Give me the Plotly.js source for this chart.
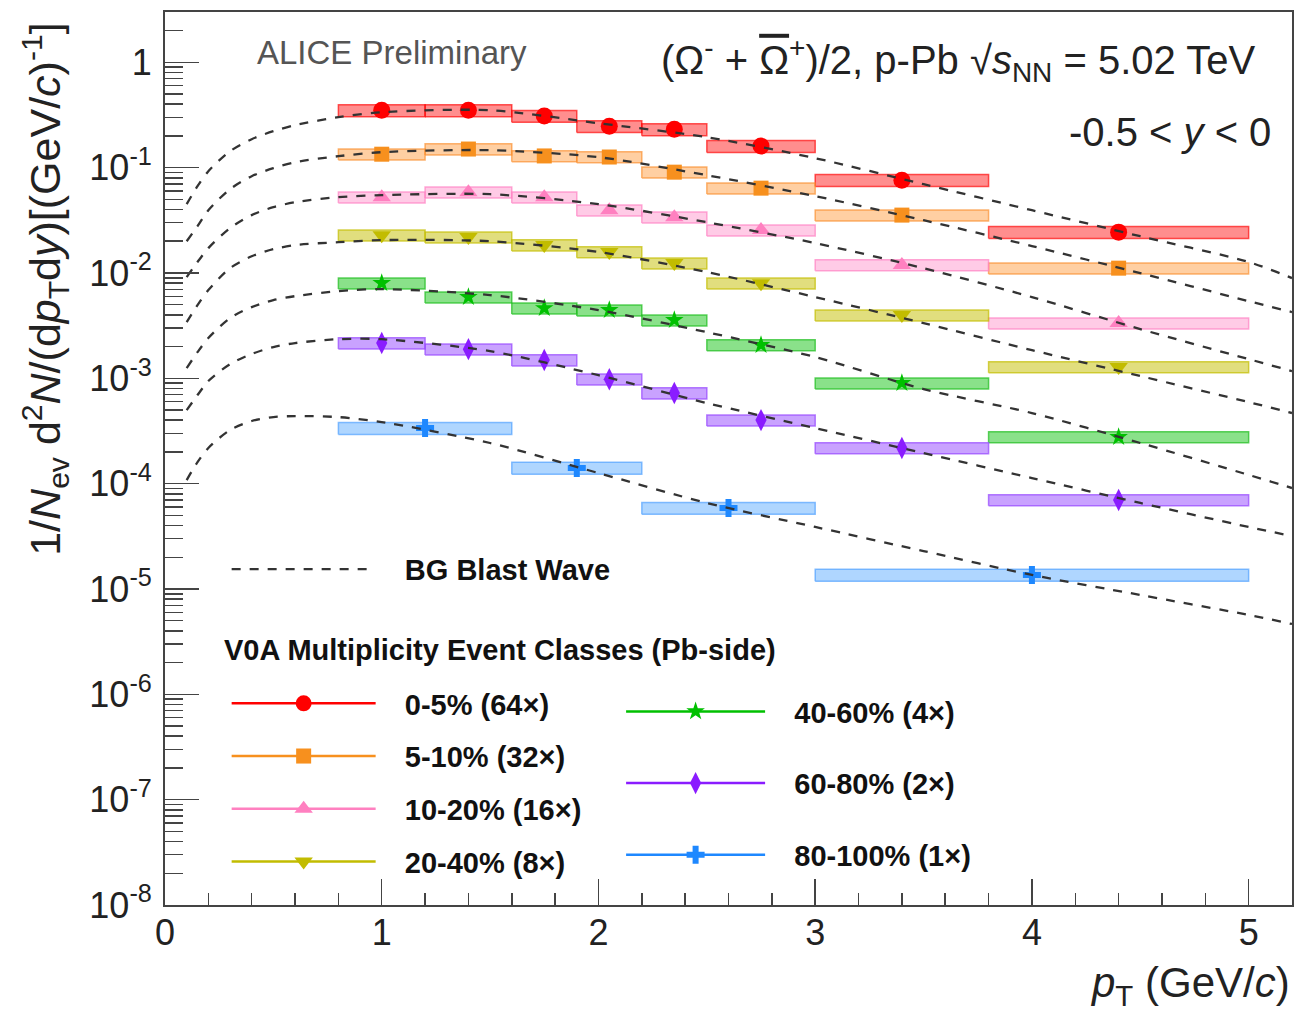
<!DOCTYPE html>
<html><head><meta charset="utf-8">
<script src="https://cdn.plot.ly/plotly-3.0.1.min.js"></script>
<style>body{margin:0;background:#fff}</style>
</head><body>
<div id="chart" style="width:1297px;height:1017px"></div>
<script>
// ---- data (values as plotted, already scaled) ----
const binEdges = [0.8, 1.2, 1.6, 1.9, 2.2, 2.5, 3.0, 3.8, 5.0];
const binEdgesLow = [0.8, 1.6, 2.2, 3.0, 5.0];
const classLabels = ['0-5% (64×)', '5-10% (32×)', '10-20% (16×)', '20-40% (8×)', '40-60% (4×)', '60-80% (2×)', '80-100% (1×)'];

const y0_5    = [0.350, 0.350, 0.309, 0.247, 0.231, 0.160, 0.0760, 0.0244];
const y5_10   = [0.134, 0.150, 0.129, 0.126, 0.0905, 0.0638, 0.0354, 0.0111];
const y10_20  = [0.0524, 0.0584, 0.0524, 0.0394, 0.0338, 0.0255, 0.0119, 0.00334];
const y20_40  = [0.0228, 0.0219, 0.0184, 0.0158, 0.0124, 0.0080, 0.00398, 0.00128];
const y40_60  = [0.0080, 0.00590, 0.00463, 0.00444, 0.00357, 0.00207, 0.00090, 0.000277];
const y60_80  = [0.00216, 0.00189, 0.00149, 0.00098, 0.000724, 0.000401, 0.000218, 0.0000699];
const y80_100 = [0.000337, 0.000141, 0.0000587, 0.0000136];

const sysFrac = [0.13, 0.12, 0.12, 0.12, 0.12, 0.12, 0.13];

// BG blast-wave curves
const curveX = [0.1, 0.15, 0.2, 0.3, 0.4, 0.5, 0.6, 0.8, 1.0, 1.5, 2.0, 2.5, 3.0, 3.5, 4.0, 4.5, 5.0, 5.2];
const bw0_5    = [0.0450, 0.0666, 0.0924, 0.143, 0.186, 0.2215, 0.2526, 0.3008, 0.3354, 0.3504, 0.2638, 0.1943, 0.1228, 0.0696, 0.0394, 0.0223, 0.0127, 0.00893];
const bw5_10   = [0.0200, 0.0278, 0.0394, 0.0624, 0.0829, 0.0987, 0.1125, 0.1283, 0.1400, 0.1463, 0.1255, 0.0847, 0.0536, 0.0317, 0.0180, 0.00996, 0.00540, 0.00425];
const bw10_20  = [0.00913, 0.0127, 0.0172, 0.0266, 0.0354, 0.0421, 0.0469, 0.0524, 0.0547, 0.0559, 0.0450, 0.0303, 0.0192, 0.0111, 0.00590, 0.00293, 0.00152, 0.00117];
const bw20_40  = [0.00341, 0.00495, 0.00687, 0.0111, 0.0144, 0.0168, 0.0184, 0.0196, 0.0205, 0.0200, 0.0158, 0.0102, 0.00590, 0.00334, 0.00185, 0.00105, 0.000594, 0.000468];
const bw40_60  = [0.00125, 0.00177, 0.00241, 0.00373, 0.00474, 0.00552, 0.00602, 0.00672, 0.00702, 0.00616, 0.00444, 0.00274, 0.00159, 0.000790, 0.000468, 0.000243, 0.000121, 0.0000908];
const bw60_80  = [0.000499, 0.000693, 0.000941, 0.00136, 0.00170, 0.00198, 0.00216, 0.00235, 0.00235, 0.00181, 0.00107, 0.000582, 0.000337, 0.000195, 0.000113, 0.0000655, 0.0000388, 0.0000318];
const bw80_100 = [0.000108, 0.000160, 0.000218, 0.000323, 0.000393, 0.000428, 0.000438, 0.000428, 0.000384, 0.000243, 0.000126, 0.0000655, 0.0000388, 0.0000229, 0.0000136, 0.00000877, 0.00000567, 0.00000465];

// ---- styles ----
const styles = [
  {color: '#ff0000', fill: 'rgba(255,50,50,0.55)',  edge: 'rgba(255,0,0,0.65)',     symbol: 'circle',        size: 17, legend: 'legend2'},
  {color: '#f7901e', fill: 'rgba(255,160,70,0.5)',  edge: 'rgba(250,140,40,0.65)',  symbol: 'square',        size: 15, legend: 'legend2'},
  {color: '#ff80c0', fill: 'rgba(255,160,210,0.55)', edge: 'rgba(255,130,195,0.7)', symbol: 'triangle-up',   size: 16, legend: 'legend2'},
  {color: '#c2bc00', fill: 'rgba(205,200,40,0.6)',  edge: 'rgba(195,190,0,0.7)',    symbol: 'triangle-down', size: 16, legend: 'legend2'},
  {color: '#00c000', fill: 'rgba(60,205,60,0.6)',   edge: 'rgba(30,190,30,0.7)',    symbol: 'star',          size: 14, legend: 'legend3'},
  {color: '#8a1cff', fill: 'rgba(165,100,255,0.6)', edge: 'rgba(150,70,255,0.7)',   symbol: 'diamond-tall',  size: 16, legend: 'legend3'},
  {color: '#1e88ff', fill: 'rgba(110,180,255,0.55)', edge: 'rgba(60,150,255,0.6)',  symbol: 'cross',         size: 15, legend: 'legend3'}
];

const yData = [y0_5, y5_10, y10_20, y20_40, y40_60, y60_80, y80_100];
const edgesFor = [binEdges, binEdges, binEdges, binEdges, binEdges, binEdges, binEdgesLow];
const curves = [bw0_5, bw5_10, bw10_20, bw20_40, bw40_60, bw60_80, bw80_100];
const PAD = '\u00a0\u00a0\u00a0';

const boxTraces = [], markerTraces = [], curveTraces = [], legendTraces = [];

yData.forEach((ys, k) => {
  const edges = edgesFor[k];
  const st = styles[k];
  const bx = [], by = [];
  const cx = [];
  ys.forEach((v, i) => {
    const a = edges[i], b = edges[i + 1];
    const lo = v * (1 - sysFrac[k]), hi = v * (1 + sysFrac[k]);
    bx.push(a, b, b, a, a, null);
    by.push(lo, lo, hi, hi, lo, null);
    cx.push((a + b) / 2);
  });
  boxTraces.push({x: bx, y: by, type: 'scatter', mode: 'lines', fill: 'toself',
    fillcolor: st.fill, line: {color: st.edge, width: 1.5}, showlegend: false, hoverinfo: 'skip'});
  markerTraces.push({x: cx, y: ys, type: 'scatter', mode: 'markers',
    marker: {symbol: st.symbol, size: st.size, color: st.color, line: {width: 0}},
    showlegend: false, name: classLabels[k]});
  curveTraces.push({x: curveX, y: curves[k], type: 'scatter', mode: 'lines',
    line: {color: '#333333', width: 2.3, dash: '9px,9px', shape: 'spline', smoothing: 0.8},
    showlegend: k === 0, name: PAD + 'BG Blast Wave', legend: 'legend', hoverinfo: 'skip'});
  legendTraces.push({x: [null], y: [null], type: 'scatter', mode: 'lines+markers',
    name: PAD + classLabels[k], legend: st.legend, legendgroup: 'g' + k,
    line: {color: st.color, width: 2.5},
    marker: {symbol: st.symbol, size: st.size, color: st.color}});
});

const xMinor = [];
for (let v = 0.2; v < 5.2; v += 0.2) { if (Math.abs(v - Math.round(v)) > 1e-6) xMinor.push(+v.toFixed(2)); }
const yMinor = [];
for (let e = -8; e <= 0; e++) for (let m = 2; m <= 9; m++) { const val = m * Math.pow(10, e); if (val < 2.99) yMinor.push(val); }

const yTickVals = [1e-8, 1e-7, 1e-6, 1e-5, 1e-4, 1e-3, 1e-2, 1e-1, 1];
const yTickText = ['10<sup>-8</sup>', '10<sup>-7</sup>', '10<sup>-6</sup>', '10<sup>-5</sup>', '10<sup>-4</sup>', '10<sup>-3</sup>', '10<sup>-2</sup>', '10<sup>-1</sup>', '1'];

const FONT = 'Liberation Sans, Arial, Helvetica, sans-serif';
const legendFont = {family: FONT, size: 29, color: '#111', weight: 'bold'};

const layout = {
  width: 1297, height: 1017,
  margin: {l: 165, r: 5, t: 12, b: 112},
  paper_bgcolor: '#ffffff', plot_bgcolor: '#ffffff',
  font: {family: FONT, color: '#222'},
  xaxis: {
    range: [0, 5.2], showgrid: false, zeroline: false, showline: true, mirror: true,
    linecolor: '#444', linewidth: 2, ticks: 'inside', ticklen: 26, tickwidth: 1.5, tickcolor: '#444',
    tickvals: [0, 1, 2, 3, 4, 5], ticktext: ['0', '1', '2', '3', '4', '5'],
    tickfont: {family: FONT, size: 36, color: '#222'}, ticklabelstandoff: -5,
    minor: {ticks: 'inside', ticklen: 12, tickwidth: 1.5, tickcolor: '#444', tickvals: xMinor, showgrid: false}
  },
  yaxis: {
    type: 'log', range: [-8, 0.477], showgrid: false, zeroline: false, showline: true, mirror: true,
    linecolor: '#444', linewidth: 2, ticks: 'inside', ticklen: 34, tickwidth: 1.5, tickcolor: '#444',
    tickvals: yTickVals, ticktext: yTickText,
    tickfont: {family: FONT, size: 36, color: '#222'}, ticklabelstandoff: 4,
    minor: {ticks: 'inside', ticklen: 18, tickwidth: 1.5, tickcolor: '#444', tickvals: yMinor, showgrid: false}
  },
  showlegend: true,
  legend: {x: 0.0547, y: 0.376, xanchor: 'left', yanchor: 'middle', bgcolor: 'rgba(0,0,0,0)',
    font: legendFont, itemwidth: 144, itemclick: false},
  legend2: {x: 0.0547, y: 0.2542, xanchor: 'left', yanchor: 'top', bgcolor: 'rgba(0,0,0,0)',
    font: legendFont, itemwidth: 144, tracegroupgap: 12, itemclick: false},
  legend3: {x: 0.4047, y: 0.2452, xanchor: 'left', yanchor: 'top', bgcolor: 'rgba(0,0,0,0)',
    font: legendFont, itemwidth: 139, tracegroupgap: 31, itemclick: false},
  annotations: [
    {xref: 'paper', yref: 'paper', x: 0.0799, y: 0.955, xanchor: 'left', yanchor: 'middle', showarrow: false,
     text: 'ALICE Preliminary', font: {family: FONT, size: 33, color: '#555'}},
    {xref: 'paper', yref: 'paper', x: 0.969, y: 0.946, xanchor: 'right', yanchor: 'middle', showarrow: false,
     text: '(Ω<sup>-</sup> + <span style="text-decoration:overline">Ω</span><sup>+</sup>)/2, p-Pb √<i>s</i><sub>NN</sub> = 5.02 TeV', font: {family: FONT, size: 40, color: '#222'}},
    {xref: 'paper', yref: 'paper', x: 0.983, y: 0.866, xanchor: 'right', yanchor: 'middle', showarrow: false,
     text: '-0.5 &lt; <i>y</i> &lt; 0', font: {family: FONT, size: 40, color: '#222'}},
    {xref: 'paper', yref: 'paper', x: 0.0506, y: 0.2856, xanchor: 'left', yanchor: 'middle', showarrow: false,
     text: '<b>V0A Multiplicity Event Classes (Pb-side)</b>', font: {family: FONT, size: 29, color: '#111'}},
    {xref: 'paper', yref: 'paper', x: 1.0, y: -0.0896, xanchor: 'right', yanchor: 'middle', showarrow: false,
     text: '<i>p</i><sub>T</sub> (GeV/<i>c</i>)', font: {family: FONT, size: 42, color: '#222'}},
    {xref: 'paper', yref: 'paper', x: -0.1065, y: 0.690, xanchor: 'center', yanchor: 'middle', showarrow: false, textangle: -90,
     text: '1/<i>N</i><sub>ev</sub> d<sup>2</sup><i>N</i>/(d<i>p</i><sub>T</sub>d<i>y</i>)[(GeV/<i>c</i>)<sup>-1</sup>]', font: {family: FONT, size: 43, color: '#222'}}
  ]
};

Plotly.newPlot('chart', [...boxTraces, ...markerTraces, ...curveTraces, ...legendTraces], layout, {staticPlot: true, displayModeBar: false});
</script>
</body></html>
